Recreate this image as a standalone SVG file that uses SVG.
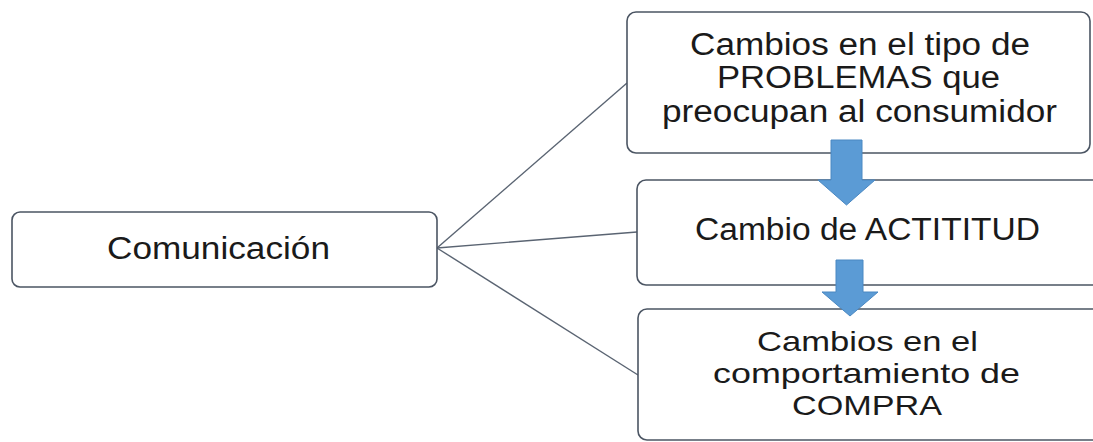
<svg xmlns="http://www.w3.org/2000/svg" width="1093" height="442" viewBox="0 0 1093 442">
  <style>
    .box { fill: #ffffff; stroke: #4b5563; stroke-width: 1.6; }
    .link { fill: none; stroke: #5a6472; stroke-width: 1.4; }
    .arrow { fill: #5b9bd5; stroke: #4a88c2; stroke-width: 1; }
    .label { font-family: "Liberation Sans", Arial, sans-serif; font-size: 31px; fill: #1a1a1a; text-anchor: middle; }
    .tight { font-size: 28.5px; }
  </style>
  <rect width="1093" height="442" fill="#ffffff"/>

  <!-- connectors from the source node to each target -->
  <g id="connectors">
    <line class="link" x1="437" y1="248" x2="627" y2="83"/>
    <line class="link" x1="437" y1="248" x2="637" y2="232"/>
    <line class="link" x1="437" y1="248" x2="638" y2="375"/>
  </g>

  <g id="node-comunicacion">
    <rect class="box" x="12" y="212" width="425" height="75" rx="8"/>
    <text class="label" x="218.5" y="259" textLength="223" lengthAdjust="spacingAndGlyphs">Comunicación</text>
  </g>

  <g id="node-problemas">
    <rect class="box" x="627" y="12" width="463" height="141" rx="9"/>
    <text class="label" x="860" y="55" textLength="340" lengthAdjust="spacingAndGlyphs">Cambios en el tipo de</text>
    <text class="label" x="858.5" y="88" textLength="283" lengthAdjust="spacingAndGlyphs">PROBLEMAS que</text>
    <text class="label" x="859.5" y="122" textLength="395" lengthAdjust="spacingAndGlyphs">preocupan al consumidor</text>
  </g>

  <g id="node-actitud">
    <rect class="box" x="637" y="180" width="470" height="105" rx="9"/>
    <text class="label" x="867.5" y="240" textLength="345" lengthAdjust="spacingAndGlyphs">Cambio de ACTITITUD</text>
  </g>

  <g id="node-compra">
    <rect class="box" x="638" y="309" width="470" height="131" rx="9"/>
    <text class="label tight" x="867.5" y="351" textLength="221" lengthAdjust="spacingAndGlyphs">Cambios en el</text>
    <text class="label tight" x="866.5" y="383" textLength="307" lengthAdjust="spacingAndGlyphs">comportamiento de</text>
    <text class="label tight" x="867" y="415" textLength="150" lengthAdjust="spacingAndGlyphs">COMPRA</text>
  </g>

  <!-- block arrows between the stacked steps -->
  <g id="step-arrows">
    <polygon class="arrow" points="831,140 862,140 862,180 875,180 846.5,205 818,180 831,180"/>
    <polygon class="arrow" points="836,260 863,260 863,292 878,292 850,316 822,292 836,292"/>
  </g>
</svg>
